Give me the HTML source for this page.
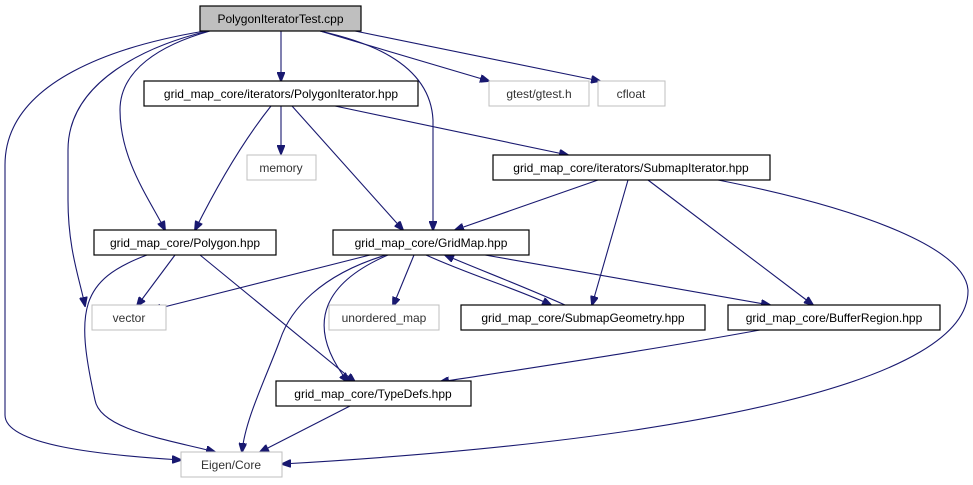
<!DOCTYPE html>
<html><head><meta charset="utf-8"><style>
body{margin:0;background:#fff}
svg{display:block}
text{font-family:"Liberation Sans",sans-serif;font-size:12px;text-anchor:middle}
.n{fill:#fff;stroke:#000;stroke-width:1.2}
.g{fill:#fff;stroke:#bfbfbf;stroke-width:1}
.e{fill:none;stroke:#191970;stroke-width:1.1}
</style></head><body>
<svg width="973" height="485" viewBox="0 0 973 485">
<defs><marker id="a" markerWidth="10" markerHeight="8" refX="9" refY="4" orient="auto" markerUnits="userSpaceOnUse"><path d="M0,0L10,4L0,8z" fill="#191970" stroke="#191970"/></marker></defs>
<g class="e" marker-end="url(#a)">
<path d="M281,31V81"/>
<path d="M205,31C120,45 5,80 5,165V415C5,445 100,455 181,460"/>
<path d="M208,31C150,45 68,80 68,150V200C68,250 80,280 85,306"/>
<path d="M210,31C160,45 120,70 120,110C120,160 150,200 165,230"/>
<path d="M320,31C360,40 430,60 433,120V230"/>
<path d="M320,31L489,81"/>
<path d="M355,31L600,81"/>
<path d="M271,106C240,145 215,190 195,230"/>
<path d="M281,106V154"/>
<path d="M292,106L403,230"/>
<path d="M335,106L568,155"/>
<path d="M598,180L455,230"/>
<path d="M628,180L592,305"/>
<path d="M648,180L813,305"/>
<path d="M718,180C870,210 965,250 968,290C970,380 700,440 282,464"/>
<path d="M147,255C80,280 75,310 95,400C100,430 170,440 215,452"/>
<path d="M175,255L137,306"/>
<path d="M200,255L355,382"/>
<path d="M370,255L152,310"/>
<path d="M386,255C320,275 290,310 280,340C265,380 245,420 242,452"/>
<path d="M388,255C330,280 300,320 348,382"/>
<path d="M414,255L393,306"/>
<path d="M426,255C470,275 520,290 551,305"/>
<path d="M565,305C520,285 480,270 445,255"/>
<path d="M485,255L770,305"/>
<path d="M760,330C650,350 550,365 440,382"/>
<path d="M350,406L260,452"/>
</g>
<rect x="200" y="6" width="161" height="25" fill="#bfbfbf" stroke="#000" stroke-width="1.2"/><text x="280.5" y="23">PolygonIteratorTest.cpp</text>
<rect class="n" x="144" y="81" width="274" height="25"/><text x="281" y="98">grid_map_core/iterators/PolygonIterator.hpp</text>
<rect class="g" x="489" y="81" width="100" height="25"/><text x="539" y="98" fill="#333">gtest/gtest.h</text>
<rect class="g" x="598" y="81" width="67" height="25"/><text x="631" y="98" fill="#333">cfloat</text>
<rect class="g" x="247" y="155" width="69" height="25"/><text x="281" y="172" fill="#333">memory</text>
<rect class="n" x="493" y="155" width="277" height="25"/><text x="631" y="172">grid_map_core/iterators/SubmapIterator.hpp</text>
<rect class="n" x="94" y="230" width="182" height="25"/><text x="185" y="247">grid_map_core/Polygon.hpp</text>
<rect class="n" x="333" y="230" width="196" height="25"/><text x="431" y="247">grid_map_core/GridMap.hpp</text>
<rect class="g" x="92" y="305" width="74" height="25"/><text x="129" y="322" fill="#333">vector</text>
<rect class="g" x="329" y="305" width="110" height="25"/><text x="384" y="322" fill="#333">unordered_map</text>
<rect class="n" x="461" y="305" width="244" height="25"/><text x="583" y="322">grid_map_core/SubmapGeometry.hpp</text>
<rect class="n" x="728" y="305" width="212" height="25"/><text x="834" y="322">grid_map_core/BufferRegion.hpp</text>
<rect class="n" x="276" y="381" width="195" height="25"/><text x="373" y="398">grid_map_core/TypeDefs.hpp</text>
<rect class="g" x="181" y="452" width="101" height="25"/><text x="231" y="469" fill="#333">Eigen/Core</text>
</svg>
</body></html>
